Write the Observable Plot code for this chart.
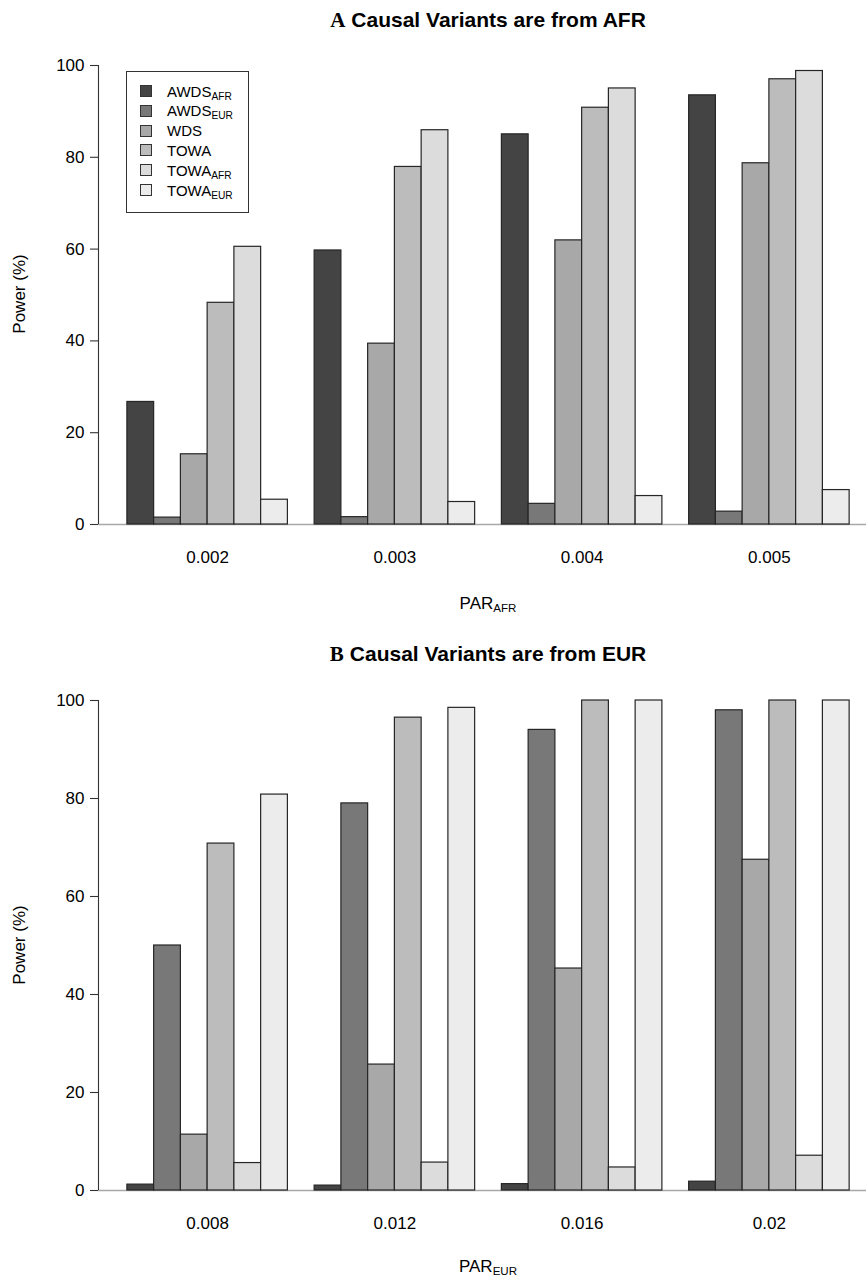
<!DOCTYPE html>
<html>
<head>
<meta charset="utf-8">
<script src="https://cdn.jsdelivr.net/npm/d3@7"></script>
<script src="https://cdn.jsdelivr.net/npm/@observablehq/plot@0.6"></script>
<style>
  body { margin: 0; background: #fff; }
  #root { position: relative; width: 866px; height: 1281px; overflow: hidden; background: #fff;
          font-family: "Liberation Sans", Arial, Helvetica, sans-serif; color: #000; }
  .abs { position: absolute; }
  .title { text-align: center; font-weight: bold; font-size: 21px; white-space: nowrap; }
  .title .letter { font-family: "Liberation Serif", "DejaVu Serif", serif; font-size: 21px; margin-right: 6px; }
  .xlab { text-align: center; font-size: 17px; white-space: nowrap; }
  sub { font-size: 0.68em; vertical-align: -0.25em; line-height: 0; }
  .ylab { font-size: 17px; white-space: nowrap; transform: translate(-50%, -50%) rotate(-90deg); }
  .legend { border: 1px solid #333; box-sizing: border-box; background: #fff; }
  .legend .row { position: absolute; left: 13px; height: 16px; display: flex; align-items: center; font-size: 15px; white-space: nowrap; }
  .legend .sw { width: 12px; height: 12px; border: 1px solid #333; box-sizing: border-box; margin-right: 15px; }
</style>
</head>
<body>
<div id="root"></div>
<script>
// ---- data ----
const seriesKeys = ["AWDS_AFR", "AWDS_EUR", "WDS", "TOWA", "TOWA_AFR", "TOWA_EUR"];
const seriesMain = ["AWDS", "AWDS", "WDS", "TOWA", "TOWA", "TOWA"];
const seriesSub  = ["AFR", "EUR", "", "", "AFR", "EUR"];
const seriesColors = ["#444444", "#787878", "#a8a8a8", "#bcbcbc", "#dcdcdc", "#ececec"];

// Panel A: causal variants from AFR
const parAFR = ["0.002", "0.003", "0.004", "0.005"];
const afr_AWDS_AFR = [26.7, 59.7, 85.0, 93.5];
const afr_AWDS_EUR = [1.5, 1.6, 4.5, 2.8];
const afr_WDS      = [15.3, 39.4, 61.9, 78.7];
const afr_TOWA     = [48.3, 77.9, 90.8, 97.0];
const afr_TOWA_AFR = [60.5, 85.9, 95.0, 98.8];
const afr_TOWA_EUR = [5.4, 4.9, 6.2, 7.5];

// Panel B: causal variants from EUR
const parEUR = ["0.008", "0.012", "0.016", "0.02"];
const eur_AWDS_AFR = [1.2, 1.0, 1.3, 1.8];
const eur_AWDS_EUR = [50.0, 79.0, 94.0, 98.0];
const eur_WDS      = [11.4, 25.7, 45.3, 67.5];
const eur_TOWA     = [70.8, 96.5, 100, 100];
const eur_TOWA_AFR = [5.6, 5.7, 4.7, 7.1];
const eur_TOWA_EUR = [80.8, 98.5, 100, 100];

const yTicks = [0, 20, 40, 60, 80, 100];

// ---- layout helpers ----
const root = document.getElementById("root");
function add(html, cls, style) {
  const d = document.createElement("div");
  d.className = "abs " + (cls || "");
  Object.assign(d.style, style);
  d.innerHTML = html;
  root.appendChild(d);
  return d;
}

const nS = seriesKeys.length;
const slotW = nS + 1;            // bars per group + one gap (R barplot beside=TRUE)
const totalSlots = 4 * slotW;    // 28
const xLo = 1 - 0.04 * (totalSlots - 1);
const unitPx = 26.75;
const plotLeft = 98;
const xHi = xLo + (866 - plotLeft) / unitPx;

function panel(cats, vals, top, height, yTop, yBottom) {
  const data = cats.flatMap((c, g) => seriesKeys.map((s, i) => ({
    cat: c, series: s, value: vals[i][g], slot: g * slotW + i + 1
  })));
  const centers = cats.map((c, g) => g * slotW + 1 + nS / 2);
  const fmt = new Map(centers.map((x, g) => [x, cats[g]]));
  const chart = Plot.plot({
    width: 866,
    height,
    marginLeft: plotLeft,
    marginRight: 0,
    marginTop: yTop,
    marginBottom: height - yBottom,
    style: { background: "transparent", overflow: "visible", fontFamily: '"Liberation Sans", Arial, sans-serif' },
    x: { domain: [xLo, xHi] },
    y: { domain: [0, 100] },
    color: { domain: seriesKeys, range: seriesColors },
    marks: [
      Plot.ruleY([0], { stroke: "#a8a8a8", strokeWidth: 1.6 }),
      Plot.rectY(data, {
        x1: "slot", x2: d => d.slot + 1, y1: 0, y2: "value",
        fill: "series", stroke: "#262626", strokeWidth: 1.2
      }),
      Plot.ruleX([xLo], { y1: 0, y2: 100, stroke: "#333", strokeWidth: 1.1 }),
      Plot.axisY(yTicks, {
        tickSize: 8, tickPadding: 6, fontSize: 17, label: null, stroke: "#333", strokeWidth: 1.1, fill: "#000"
      }),
      Plot.axisX(centers, {
        tickSize: 0, tickPadding: 26, fontSize: 17, label: null, tickFormat: d => fmt.get(d), fill: "#000"
      })
    ]
  });
  const wrap = add("", "", { left: "0px", top: top + "px", width: "866px", height: height + "px" });
  wrap.appendChild(chart);
  return chart;
}

// ---- Panel A ----
add('<span class="letter">A</span>Causal Variants are from AFR', "title", { left: "98px", width: "780px", top: "8px" });
panel(parAFR, [afr_AWDS_AFR, afr_AWDS_EUR, afr_WDS, afr_TOWA, afr_TOWA_AFR, afr_TOWA_EUR], 0, 640, 65, 524);
add("PAR<sub>AFR</sub>", "xlab", { left: "98px", width: "780px", top: "594px" });
add("Power (%)", "ylab", { left: "20px", top: "294px" });

// legend
const leg = add("", "legend", { left: "126px", top: "71px", width: "123px", height: "142px" });
seriesKeys.forEach((s, i) => {
  const r = document.createElement("div");
  r.className = "row";
  r.style.top = (11 + 19.8 * i) + "px";
  r.innerHTML = `<span class="sw" style="background:${seriesColors[i]}"></span><span>${seriesMain[i]}${seriesSub[i] ? "<sub>" + seriesSub[i] + "</sub>" : ""}</span>`;
  leg.appendChild(r);
});

// ---- Panel B ----
add('<span class="letter">B</span>Causal Variants are from EUR', "title", { left: "98px", width: "780px", top: "642px" });
panel(parEUR, [eur_AWDS_AFR, eur_AWDS_EUR, eur_WDS, eur_TOWA, eur_TOWA_AFR, eur_TOWA_EUR], 640, 641, 60, 550);
add("PAR<sub>EUR</sub>", "xlab", { left: "98px", width: "780px", top: "1257px" });
add("Power (%)", "ylab", { left: "20px", top: "945px" });
</script>
</body>
</html>
